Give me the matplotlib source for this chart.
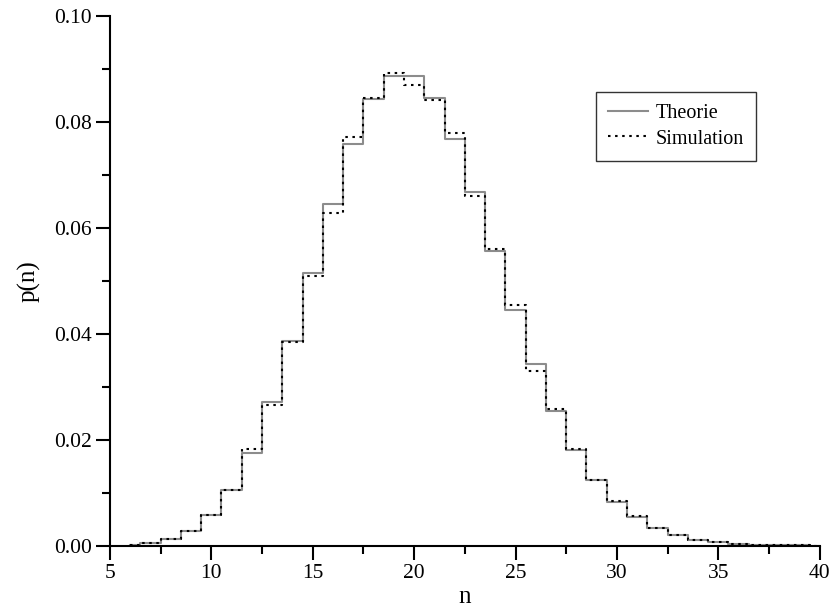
import matplotlib
matplotlib.use("Agg")
import matplotlib.pyplot as plt
from matplotlib.ticker import MultipleLocator

plt.rcParams['font.family'] = ['Liberation Serif', 'DejaVu Serif']

# n values (bin centres) and the two distributions
n = list(range(6, 41))
theorie = [0.0002, 0.0005, 0.0013, 0.0029, 0.0058, 0.0106, 0.0176, 0.0271,
           0.0387, 0.0516, 0.0646, 0.0760, 0.0844, 0.0888, 0.0888, 0.0846,
           0.0769, 0.0669, 0.0557, 0.0446, 0.0343, 0.0254, 0.0181, 0.0125,
           0.0083, 0.0054, 0.0034, 0.0020, 0.0012, 0.0007, 0.0004, 0.0002,
           0.0001, 0.0001, 0.0000]
simulation = [0.0002, 0.0005, 0.0013, 0.0029, 0.0058, 0.0105, 0.0184, 0.0267,
              0.0385, 0.0510, 0.0629, 0.0773, 0.0846, 0.0893, 0.0871, 0.0843,
              0.0780, 0.0661, 0.0561, 0.0456, 0.0330, 0.0258, 0.0183, 0.0125,
              0.0084, 0.0056, 0.0034, 0.0021, 0.0012, 0.0007, 0.0004, 0.0002,
              0.0001, 0.0001, 0.0000]

fig = plt.figure(figsize=(8.33, 6.10), dpi=100)
ax = fig.add_axes([0.132, 0.105, 0.852, 0.868])

ax.step(n, theorie, where='mid', color='#8c8c8c', lw=1.5, label='Theorie')
ax.step(n, simulation, where='mid', color='black', lw=1.5,
        linestyle=(0, (1.2, 2.2)), label='Simulation')

ax.set_xlim(5, 40)
ax.set_ylim(0, 0.10)
ax.xaxis.set_major_locator(MultipleLocator(5))
ax.xaxis.set_minor_locator(MultipleLocator(2.5))
ax.yaxis.set_major_locator(MultipleLocator(0.02))
ax.yaxis.set_minor_locator(MultipleLocator(0.01))
ax.yaxis.set_major_formatter(plt.FuncFormatter(lambda v, p: f"{v:.2f}"))

for s in ['top', 'right']:
    ax.spines[s].set_visible(False)
for s in ['left', 'bottom']:
    ax.spines[s].set_linewidth(1.5)

ax.tick_params(which='major', direction='out', length=10, width=1.5,
               labelsize=15.5, pad=3)
ax.tick_params(which='minor', direction='out', length=6, width=1.5)

ax.set_xlabel('n', fontsize=18, labelpad=2)
ax.set_ylabel('p(n)', fontsize=18, labelpad=10)

leg = ax.legend(loc='upper right', bbox_to_anchor=(0.91, 0.857), fontsize=14.5,
                frameon=True, fancybox=False, edgecolor='black',
                handlelength=2.0, handletextpad=0.35, borderpad=0.6,
                labelspacing=0.3, borderaxespad=0)
leg.get_frame().set_linewidth(1.0)

fig.savefig('out.png', dpi=100)
